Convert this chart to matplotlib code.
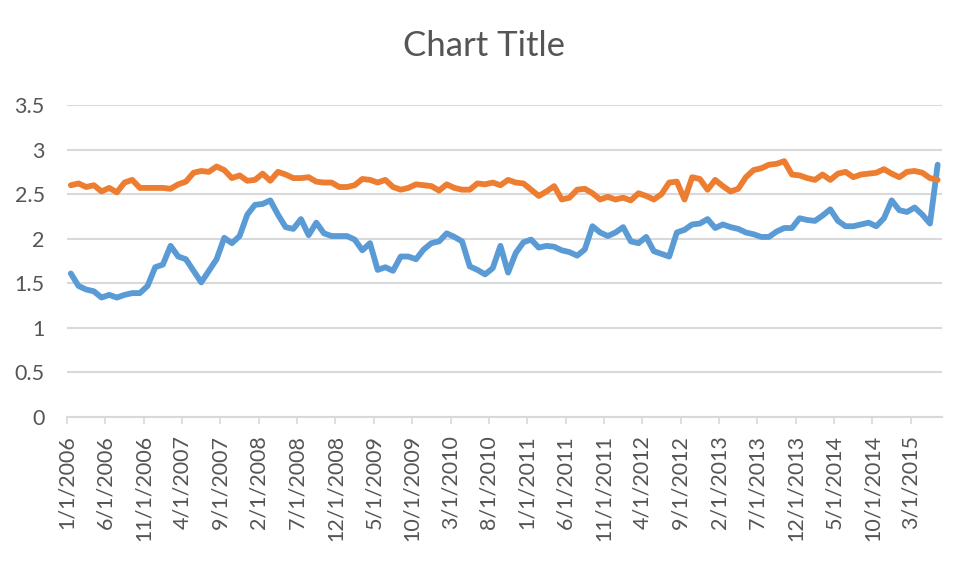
import matplotlib
matplotlib.use("Agg")
import matplotlib.pyplot as plt
import numpy as np

plt.rcParams['font.family'] = ['Lato', 'DejaVu Sans']

# monthly data, 1/1/2006 .. 6/1/2015
start_year, start_month = 2006, 1
series_blue = [
    1.61, 1.47, 1.43, 1.41, 1.34, 1.37, 1.34, 1.37, 1.39, 1.39, 1.47, 1.68, 1.71, 1.92, 1.80, 1.77, 1.64, 1.51, 1.64,
    1.77, 2.01, 1.95, 2.03, 2.27, 2.38, 2.39, 2.43, 2.27, 2.13, 2.11, 2.22, 2.04, 2.18, 2.06, 2.03, 2.03, 2.03,
    1.99, 1.87, 1.95, 1.65, 1.68, 1.64, 1.80, 1.80, 1.77, 1.88, 1.95, 1.97, 2.06, 2.02, 1.97, 1.69, 1.65, 1.60, 1.67,
    1.92, 1.62, 1.84, 1.96, 1.99, 1.90, 1.92, 1.91, 1.87, 1.85, 1.81, 1.88, 2.14, 2.07, 2.03, 2.07, 2.13, 1.97,
    1.95, 2.02, 1.86, 1.83, 1.80, 2.07, 2.10, 2.16, 2.17, 2.22, 2.12, 2.16, 2.13, 2.11, 2.07, 2.05, 2.02, 2.02,
    2.08, 2.12, 2.12, 2.23, 2.21, 2.20, 2.26, 2.33, 2.20, 2.14, 2.14, 2.16, 2.18, 2.14, 2.23, 2.43, 2.32, 2.30,
    2.35, 2.27, 2.17, 2.83,
]
series_orange = [
    2.60, 2.62, 2.58, 2.60, 2.53, 2.57, 2.52, 2.63, 2.66, 2.57, 2.57, 2.57, 2.57, 2.56, 2.61, 2.64, 2.74, 2.76, 2.75,
    2.81, 2.77, 2.68, 2.71, 2.65, 2.66, 2.73, 2.65, 2.75, 2.72, 2.68, 2.68, 2.69, 2.64, 2.63, 2.63, 2.58, 2.58,
    2.60, 2.67, 2.66, 2.63, 2.66, 2.58, 2.55, 2.57, 2.61, 2.60, 2.59, 2.54, 2.61, 2.57, 2.55, 2.55, 2.62, 2.61, 2.63,
    2.60, 2.66, 2.63, 2.62, 2.55, 2.48, 2.53, 2.59, 2.44, 2.46, 2.55, 2.56, 2.51, 2.44, 2.47, 2.44, 2.46, 2.43,
    2.51, 2.48, 2.44, 2.50, 2.63, 2.64, 2.44, 2.69, 2.67, 2.55, 2.66, 2.59, 2.53, 2.56, 2.69, 2.77, 2.79, 2.83,
    2.84, 2.87, 2.72, 2.71, 2.68, 2.66, 2.72, 2.66, 2.73, 2.75, 2.69, 2.72, 2.73, 2.74, 2.78, 2.73, 2.69, 2.75,
    2.76, 2.74, 2.68, 2.66,
]
y_ticks = [0, 0.5, 1, 1.5, 2, 2.5, 3, 3.5]
y_tick_labels = ["0", "0.5", "1", "1.5", "2", "2.5", "3", "3.5"]
title = "Chart Title"

n = len(series_blue)
months = np.arange(n)
x = months + 0.5

def month_label(m):
    yy = start_year + (start_month - 1 + m) // 12
    mm = (start_month - 1 + m) % 12 + 1
    return f"{mm}/1/{yy}"

tick_months = list(range(0, n, 5))
tick_labels = [month_label(m) for m in tick_months]

text_color = "#555555"
grid_color = "#D9D9D9"

fig = plt.figure(figsize=(9.69, 5.72), dpi=100)
ax = fig.add_axes([67 / 969, 1 - 417 / 572, (941.5 - 67) / 969, (417 - 105) / 572])

ax.plot(x, series_blue, color="#5B9BD5", lw=4.2, solid_capstyle="round", solid_joinstyle="round", zorder=3)
ax.plot(x, series_orange, color="#ED7D31", lw=4.2, solid_capstyle="round", solid_joinstyle="round", zorder=3)

ax.set_xlim(0, n)
ax.set_ylim(0, 3.5)
ax.set_yticks(y_ticks)
ax.set_yticklabels(y_tick_labels)
ax.set_xticks(tick_months)
ax.set_xticklabels(tick_labels, rotation=90)

ax.grid(axis="y", color=grid_color, lw=1.5, zorder=0)
for s in ["top", "right", "left"]:
    ax.spines[s].set_visible(False)
ax.spines["bottom"].set_color(grid_color)
ax.spines["bottom"].set_linewidth(1.5)
ax.spines["bottom"].set_zorder(1)

ax.tick_params(axis="y", length=0, pad=16, labelsize=15.5, labelcolor=text_color)
ax.tick_params(axis="x", length=5, width=1.2, color=grid_color, pad=8, labelsize=15.5, labelcolor=text_color)

fig.text(484 / 969, 1 - 46 / 572, title, ha="center", va="center", fontsize=25, color=text_color)

fig.savefig("out.png", dpi=100, facecolor="white")
